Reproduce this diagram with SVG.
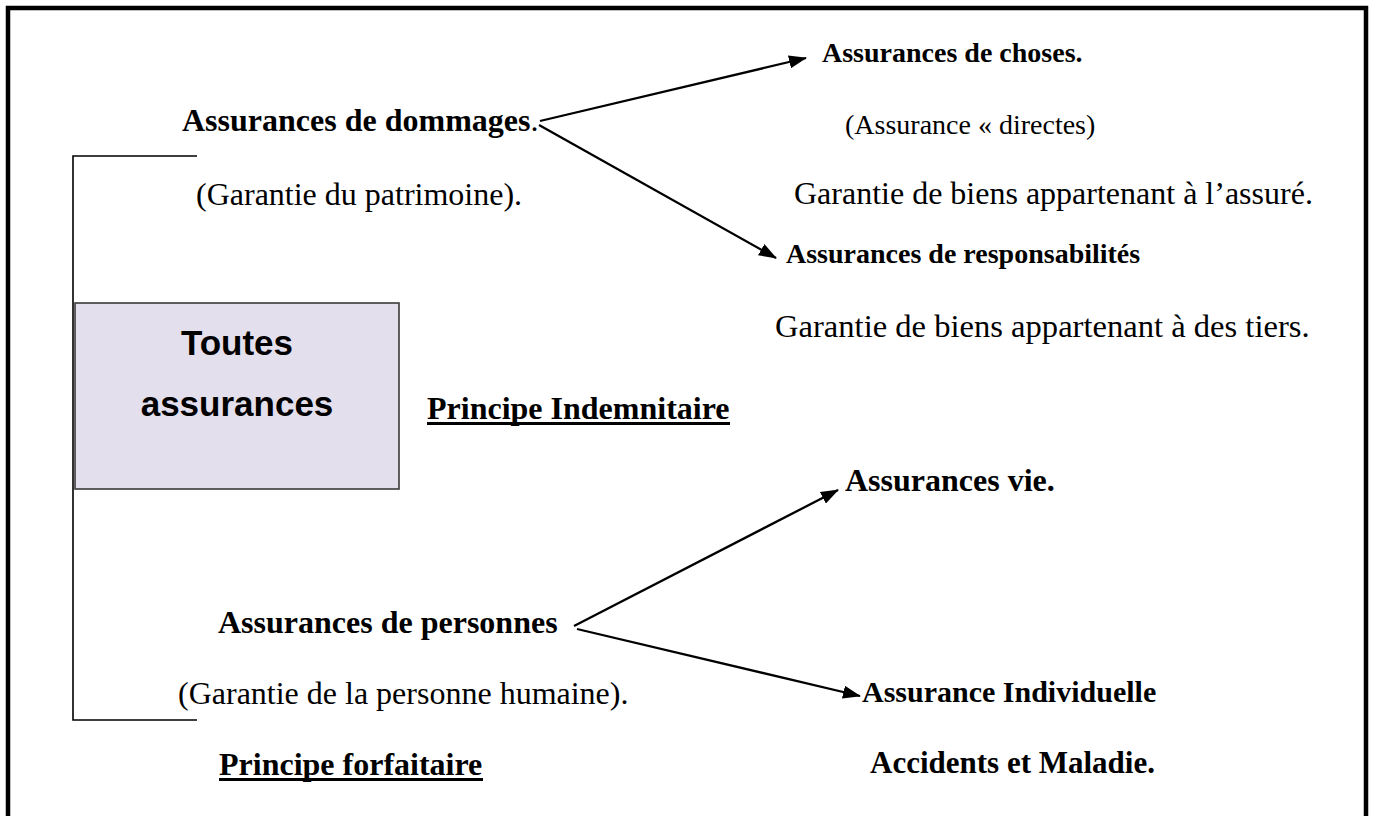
<svg xmlns="http://www.w3.org/2000/svg" width="1376" height="816" viewBox="0 0 1376 816">
<style>
.b{font-family:"Liberation Serif","Times New Roman",serif;font-weight:bold;fill:#000}
.r{font-family:"Liberation Serif","Times New Roman",serif;font-weight:normal;fill:#000}
.cal{font-family:"Liberation Sans",Arial,sans-serif;font-weight:bold;font-size:35px;fill:#000}
.ul{stroke:#000;stroke-width:3}
.ln{stroke:#000;stroke-width:2.3;fill:none}
.br{stroke:#000;stroke-width:1.6;fill:none}
</style>
<defs>
<marker id="ah" markerWidth="18" markerHeight="13" refX="17" refY="6.5" orient="auto" markerUnits="userSpaceOnUse">
<path d="M0,0 L18,6.5 L0,13 z" fill="#000"/>
</marker>
</defs>
<rect width="1376" height="816" fill="#fff"/>
<rect id="frame" x="8" y="8" width="1358" height="830" fill="none" stroke="#000" stroke-width="4.5"/>
<g id="bracket"><path class="br" d="M197,156 H73 V720 H197"/></g>
<g id="toutes">
<rect x="75" y="303" width="324" height="186" fill="#e4dfec" stroke="#3a3a3a" stroke-width="1.6"/>
<text x="237" y="355" text-anchor="middle" class="cal">Toutes</text>
<text x="237" y="416" text-anchor="middle" class="cal">assurances</text>
</g>
<g id="dommages">
<text x="182" y="131" class="b" font-size="32">Assurances de dommages<tspan class="r">.</tspan></text>
<text x="196" y="205" class="r" font-size="32">(Garantie du patrimoine).</text>
</g>
<g id="choses">
<text x="822" y="62" class="b" font-size="28">Assurances de choses.</text>
<text x="845" y="134" class="r" font-size="28">(Assurance « directes)</text>
<text x="794" y="204" class="r" font-size="32">Garantie de biens appartenant à l’assuré.</text>
</g>
<g id="responsabilites">
<text x="786" y="263" class="b" font-size="28">Assurances de responsabilités</text>
<text x="775" y="337" class="r" font-size="32.6">Garantie de biens appartenant à des tiers.</text>
</g>
<g id="indemnitaire">
<text x="427" y="419" class="b" font-size="32">Principe Indemnitaire</text>
<line class="ul" x1="427" y1="423.5" x2="730" y2="423.5"/>
</g>
<g id="vie"><text x="845" y="491" class="b" font-size="32">Assurances vie.</text></g>
<g id="personnes">
<text x="218" y="633" class="b" font-size="32">Assurances de personnes</text>
<text x="178" y="704" class="r" font-size="32">(Garantie de la personne humaine).</text>
</g>
<g id="individuelle">
<text x="862" y="702" class="b" font-size="30">Assurance Individuelle</text>
<text x="870" y="773" class="b" font-size="31">Accidents et Maladie.</text>
</g>
<g id="forfaitaire">
<text x="219" y="775" class="b" font-size="32">Principe forfaitaire</text>
<line class="ul" x1="219" y1="779.5" x2="483" y2="779.5"/>
</g>
<g id="connectors">
<line class="ln" x1="540" y1="121" x2="806" y2="58" marker-end="url(#ah)"/>
<line class="ln" x1="539" y1="125" x2="776" y2="258" marker-end="url(#ah)"/>
<line class="ln" x1="574" y1="626" x2="838" y2="490" marker-end="url(#ah)"/>
<line class="ln" x1="577" y1="629" x2="860" y2="696" marker-end="url(#ah)"/>
</g>
</svg>
